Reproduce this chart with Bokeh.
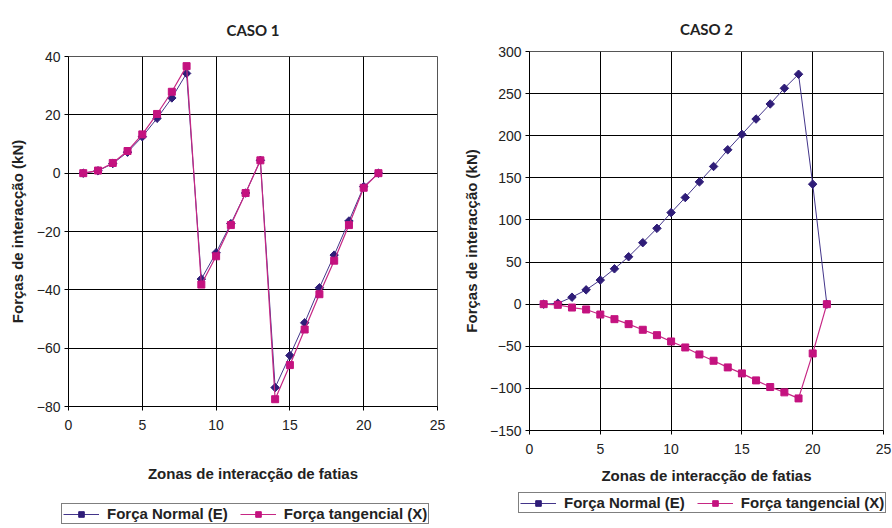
from bokeh.plotting import figure
from bokeh.layouts import row, column
from bokeh.models import FixedTicker, Legend, LegendItem, Range1d
from bokeh.embed import file_html
from bokeh.resources import INLINE
import numpy as np

# ---- data ----
slices = list(range(1, 22))

caso1_normal = [0, 0.8, 3.3, 7.2, 12.5, 18.8, 25.8, 34.2, -36.3, -27.3, -17.3,
                -6.8, 4.4, -73.5, -62.5, -51.3, -39.3, -28.1, -16.4, -4.6, 0]
caso1_tang = [0, 0.9, 3.5, 7.6, 13.3, 20.3, 27.9, 36.7, -38.2, -28.5, -17.8,
              -6.8, 4.4, -77.5, -65.8, -53.6, -41.5, -30.0, -17.8, -5.0, 0]

caso2_normal = [0, 1, 8.3, 17, 28.6, 42, 56.3, 73, 90, 108.7, 126.6, 145.2,
                163.5, 183.3, 201.6, 219.8, 237.7, 256.3, 273, 142.5, 0]
caso2_tang = [0, -0.8, -4, -6.3, -12.3, -17.8, -23.7, -30.4, -36.8, -44.3,
              -51.4, -59.7, -67.2, -75.1, -82.2, -90.5, -98.4, -104.7, -111.9,
              -58.5, 0]

x_ticks = [0, 5, 10, 15, 20, 25]
caso1_yticks = [-80, -60, -40, -20, 0, 20, 40]
caso2_yticks = [-150, -100, -50, 0, 50, 100, 150, 200, 250, 300]

titles = ["CASO 1", "CASO 2"]
x_label = "Zonas de interacção de fatias"
y_label = "Forças de interacção (kN)"
series_labels = ["Força Normal (E)", "Força tangencial (X)"]

NORMAL_MARK = "#2f1d78"
NORMAL_LINE = "#43358a"
TANG_MARK = "#c4127f"
TANG_LINE = "#c62784"
FONT = "Liberation Sans"

MAIN_H = 490
LEG_H = 38
W = 446


def style_series(p, xs, normal, tang):
    ln = p.line(xs, normal, line_color=NORMAL_LINE, line_width=1)
    sn = p.scatter(xs, normal, marker="square", angle=np.pi / 4, size=6,
                   fill_color=NORMAL_MARK, line_color=NORMAL_MARK)
    lt = p.line(xs, tang, line_color=TANG_LINE, line_width=1.2)
    st = p.scatter(xs, tang, marker="square", size=7,
                   fill_color=TANG_MARK, line_color=TANG_MARK)
    return ln, sn, lt, st


def make(title, normal, tang, yticks, borders, title_standoff, ylab_standoff,
         xlab_standoff):
    left, right, top, bottom = borders
    p = figure(width=W, height=MAIN_H, output_backend="svg",
               toolbar_location=None,
               x_range=Range1d(x_ticks[0], x_ticks[-1]),
               y_range=Range1d(yticks[0], yticks[-1]),
               min_border_left=left, min_border_right=right,
               min_border_top=top, min_border_bottom=bottom)
    p.frame_align = False
    p.title.text = title
    p.title.align = "center"
    p.title.text_font = "Lato"
    p.title.text_font_style = "bold"
    p.title.text_font_size = "15px"
    p.title.text_color = "#222222"
    p.title.standoff = title_standoff

    p.outline_line_color = "#555555"
    p.outline_line_width = 1
    for ax in (p.xaxis[0], p.yaxis[0]):
        ax.axis_line_color = "black"
        ax.major_tick_line_color = "black"
        ax.major_tick_out = 4
        ax.major_tick_in = 0
        ax.minor_tick_line_color = None
        ax.major_label_text_font = FONT
        ax.major_label_text_font_size = "14px"
        ax.major_label_text_color = "#222222"
        ax.axis_label_text_font = FONT
        ax.axis_label_text_font_size = "15px"
        ax.axis_label_text_font_style = "bold"
        ax.axis_label_text_color = "#222222"
    p.xaxis.ticker = FixedTicker(ticks=x_ticks)
    p.yaxis.ticker = FixedTicker(ticks=yticks)
    p.xaxis.axis_label = x_label
    p.yaxis.axis_label = y_label
    p.xaxis.major_label_standoff = 9
    p.yaxis.major_label_standoff = 4
    p.xaxis.axis_label_standoff = xlab_standoff
    p.yaxis.axis_label_standoff = ylab_standoff

    p.xgrid.ticker = FixedTicker(ticks=x_ticks)
    p.ygrid.ticker = FixedTicker(ticks=yticks)
    p.grid.grid_line_color = "black"
    p.grid.grid_line_width = 1
    p.grid.grid_line_alpha = 1

    style_series(p, slices, normal, tang)
    return p


def make_legend(loc, normal, tang):
    # strip below each chart that carries only the legend; the series are
    # drawn here out of view so the legend can sample their glyphs
    q = figure(width=W, height=LEG_H, output_backend="svg",
               toolbar_location=None, x_axis_type=None, y_axis_type=None,
               x_range=Range1d(1000, 1001), y_range=Range1d(1000, 1001),
               min_border_left=0, min_border_right=0,
               min_border_top=0, min_border_bottom=0)
    q.frame_align = False
    q.outline_line_color = None
    q.grid.visible = False
    ln, sn, lt, st = style_series(q, slices, normal, tang)
    legend = Legend(items=[LegendItem(label=series_labels[0], renderers=[ln, sn]),
                           LegendItem(label=series_labels[1], renderers=[lt, st])],
                    orientation="horizontal", location=loc)
    legend.border_line_color = "black"
    legend.border_line_width = 1
    legend.background_fill_color = "white"
    legend.background_fill_alpha = 1
    legend.label_text_font = FONT
    legend.label_text_font_style = "bold"
    legend.label_text_font_size = "15px"
    legend.label_text_color = "#222222"
    legend.glyph_width = 36
    legend.glyph_height = 14
    legend.label_height = 14
    legend.label_standoff = 8
    legend.spacing = 12
    legend.padding = 1
    legend.margin = 0
    q.add_layout(legend)
    return q


p1 = make(titles[0], caso1_normal, caso1_tang, caso1_yticks,
          (68, 9, 55, 84), 36, 8, 32)
p2 = make(titles[1], caso2_normal, caso2_tang, caso2_yticks,
          (83, 9, 51, 60), 28, 7, 10)
l1 = make_legend((61, 4), caso1_normal, caso1_tang)
l2 = make_legend((72, 15), caso2_normal, caso2_tang)

layout = row(column(p1, l1), column(p2, l2))
open("out.html", "w").write(file_html(layout, INLINE))
